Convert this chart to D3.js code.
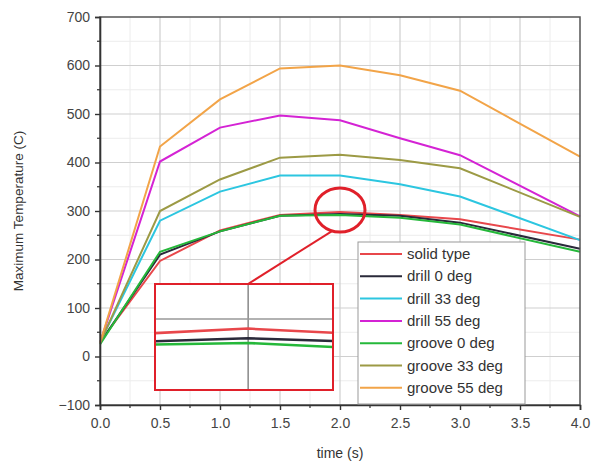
<!DOCTYPE html>
<html><head><meta charset="utf-8">
<script src="https://cdn.jsdelivr.net/npm/d3@7"></script>
<style>body{margin:0;background:#fff}svg{display:block}text{font-family:"Liberation Sans",Arial,sans-serif}</style>
</head><body>
<svg id="c" width="591" height="467"></svg>
<script>
const times = [0, 0.5, 1.0, 1.5, 2.0, 2.5, 3.0, 4.0];
const solidType  = [30, 197, 260, 292, 298, 292, 283, 241];
const drill0     = [28, 210, 258, 290, 294, 290, 276, 222];
const drill33    = [30, 280, 340, 373, 373, 355, 330, 240];
const drill55    = [28, 402, 472, 497, 487, 450, 415, 289];
const groove0    = [25, 216, 258, 290, 292, 286, 272, 216];
const groove33   = [28, 300, 365, 410, 416, 405, 388, 288];
const groove55   = [28, 433, 530, 594, 600, 580, 548, 412];
const seriesNames = ["solid type","drill 0 deg","drill 33 deg","drill 55 deg","groove 0 deg","groove 33 deg","groove 55 deg"];
const seriesValues = [solidType, drill0, drill33, drill55, groove0, groove33, groove55];
const seriesColors = ["#e8474b","#2a2a3a","#2cc6e0","#d423d4","#25b83a","#9c9a45","#f2a448"];
const xTicks = [0, 0.5, 1.0, 1.5, 2.0, 2.5, 3.0, 3.5, 4.0];
const yTicks = [-100, 0, 100, 200, 300, 400, 500, 600, 700];
const drawOrder = [0, 1, 2, 3, 4, 5, 6];
const insetSeries = [0, 1, 4];

const svg = d3.select("#c");
const L = 100, R = 580, T = 17, B = 405;
const x = d3.scaleLinear().domain([0, 4]).range([L, R]);
const y = d3.scaleLinear().domain([-100, 700]).range([B, T]);

// minor grid
const g = svg.append("g");
g.selectAll(".mx").data(d3.range(0.25, 4, 0.5)).join("line")
  .attr("x1", d => x(d)).attr("x2", d => x(d)).attr("y1", T).attr("y2", B)
  .attr("stroke", "#ececec").attr("stroke-width", 1);
g.selectAll(".my").data(d3.range(-50, 700, 100)).join("line")
  .attr("y1", d => y(d)).attr("y2", d => y(d)).attr("x1", L).attr("x2", R)
  .attr("stroke", "#ececec").attr("stroke-width", 1);
// major grid
g.selectAll(".Mx").data(xTicks.slice(1, -1)).join("line")
  .attr("x1", d => x(d)).attr("x2", d => x(d)).attr("y1", T).attr("y2", B)
  .attr("stroke", "#cfcfcf").attr("stroke-width", 1.2);
g.selectAll(".My").data(yTicks.slice(1, -1)).join("line")
  .attr("y1", d => y(d)).attr("y2", d => y(d)).attr("x1", L).attr("x2", R)
  .attr("stroke", "#cfcfcf").attr("stroke-width", 1.2);

// lines
const line = d3.line().x((d, i) => x(times[i])).y(d => y(d));
drawOrder.forEach(k => {
  svg.append("path").attr("d", line(seriesValues[k]))
    .attr("fill", "none").attr("stroke", seriesColors[k]).attr("stroke-width", 2);
});

// frame
svg.append("rect").attr("x", L).attr("y", T).attr("width", R - L).attr("height", B - T)
  .attr("fill", "none").attr("stroke", "#555").attr("stroke-width", 1.5);

// axes
const xAxis = d3.axisBottom(x).tickValues(xTicks).tickFormat(d3.format(".1f")).tickSize(5).tickPadding(8);
const xa = svg.append("g").attr("transform", `translate(0,${B})`).call(xAxis);
const yAxis = d3.axisLeft(y).tickValues(yTicks).tickSize(5).tickPadding(5);
const ya = svg.append("g").attr("transform", `translate(${L},0)`).call(yAxis);
[xa, ya].forEach(a => {
  a.select(".domain").attr("stroke", "#333").attr("stroke-width", 1.6);
  a.selectAll(".tick line").attr("stroke", "#333").attr("stroke-width", 1.4);
  a.selectAll("text").attr("font-size", 14).attr("fill", "#444");
});
// minor ticks
svg.append("g").selectAll("line").data(d3.range(0.25, 4, 0.5)).join("line")
  .attr("x1", d => x(d)).attr("x2", d => x(d)).attr("y1", B).attr("y2", B + 3)
  .attr("stroke", "#333").attr("stroke-width", 1.2);
svg.append("g").selectAll("line").data(d3.range(-50, 700, 100)).join("line")
  .attr("y1", d => y(d)).attr("y2", d => y(d)).attr("x1", L).attr("x2", L - 3)
  .attr("stroke", "#333").attr("stroke-width", 1.2);

// axis titles
svg.append("text").attr("x", x(2)).attr("y", 458).attr("text-anchor", "middle")
  .attr("font-size", 14).attr("fill", "#333").text("time (s)");
svg.append("text").attr("transform", `translate(23,${(T + B) / 2}) rotate(-90)`)
  .attr("text-anchor", "middle").attr("font-size", 13.5).attr("fill", "#333")
  .text("Maximum Temperature (C)");

// highlight circle + connector
svg.append("ellipse").attr("cx", x(2.0)).attr("cy", y(302)).attr("rx", 25).attr("ry", 22)
  .attr("fill", "none").attr("stroke", "#e0202a").attr("stroke-width", 3);

// inset
const iL = 155, iR = 333, iT = 284, iB = 390;
svg.append("line").attr("x1", x(2.0) - 8).attr("y1", y(302) + 21).attr("x2", 248).attr("y2", iT)
  .attr("stroke", "#e0202a").attr("stroke-width", 2);
const ix = d3.scaleLinear().domain([1.843, 2.143]).range([iL, iR]);
const iy = d3.scaleLinear().domain([272.4, 316.6]).range([iB, iT]);
svg.append("rect").attr("x", iL).attr("y", iT).attr("width", iR - iL).attr("height", iB - iT)
  .attr("fill", "#fff");
const ig = svg.append("g");
ig.append("line").attr("x1", ix(2.0)).attr("x2", ix(2.0)).attr("y1", iT).attr("y2", iB)
  .attr("stroke", "#888").attr("stroke-width", 1.5);
ig.append("line").attr("x1", iL).attr("x2", iR).attr("y1", iy(302)).attr("y2", iy(302))
  .attr("stroke", "#999").attr("stroke-width", 1.5);
svg.append("clipPath").attr("id", "ic").append("rect")
  .attr("x", iL).attr("y", iT).attr("width", iR - iL).attr("height", iB - iT);
const iline = d3.line().x((d, i) => ix(times[i])).y(d => iy(d));
insetSeries.forEach(k => {
  ig.append("path").attr("d", iline(seriesValues[k])).attr("clip-path", "url(#ic)")
    .attr("fill", "none").attr("stroke", seriesColors[k]).attr("stroke-width", 2.5);
});
svg.append("rect").attr("x", iL).attr("y", iT).attr("width", iR - iL).attr("height", iB - iT)
  .attr("fill", "none").attr("stroke", "#e0202a").attr("stroke-width", 2);

// legend
const lgX = 358, lgY = 242, lgW = 167, lgH = 162, rowH = 22.3;
svg.append("rect").attr("x", lgX).attr("y", lgY).attr("width", lgW).attr("height", lgH)
  .attr("fill", "#fff").attr("stroke", "#999").attr("stroke-width", 1);
const lg = svg.append("g").selectAll("g").data(seriesNames).join("g")
  .attr("transform", (d, i) => `translate(${lgX},${lgY + 12 + i * rowH})`);
lg.append("line").attr("x1", 2).attr("x2", 44).attr("y1", 0).attr("y2", 0)
  .attr("stroke", (d, i) => seriesColors[i]).attr("stroke-width", 2);
lg.append("text").attr("x", 49).attr("y", 5).attr("font-size", 15).attr("fill", "#333").text(d => d);
</script>
</body></html>
